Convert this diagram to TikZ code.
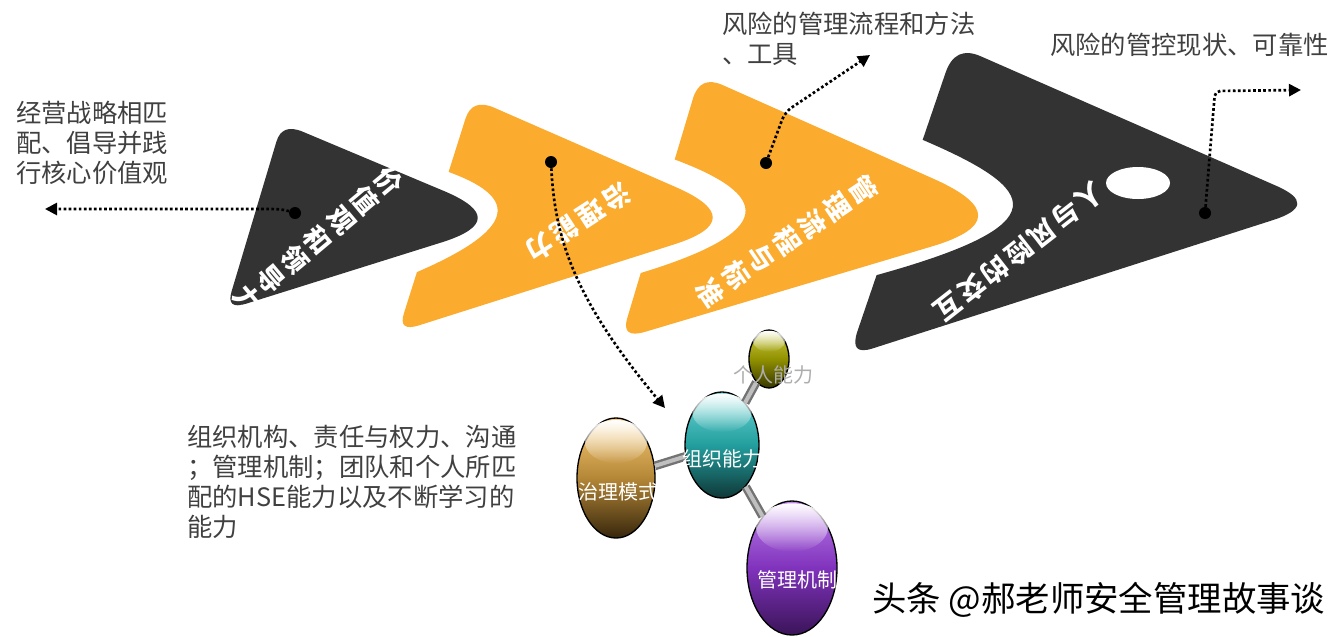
\documentclass[tikz,border=0pt]{standalone}
\usepackage{fontspec}
\setmainfont{Noto Sans CJK SC}
\usetikzlibrary{calc,shapes.geometric,arrows.meta,fadings}
\definecolor{chevdark}{RGB}{51,51,51}
\definecolor{chevorange}{RGB}{251,171,46}
\definecolor{notegray}{RGB}{64,64,64}
\newcommand{\rndcorner}[5]{-- ($(#2)!#4!(#1)$) .. controls ($(#2)!#4/3!(#1)$) and ($(#2)!#5/3!(#3)$) .. ($(#2)!#5!(#3)$)}
\tikzset{dark chev/.style={fill=chevdark},
         orange chev/.style={fill=chevorange},
         chev label/.style={text=white,font=\bfseries\fontsize{20}{23}\selectfont,inner sep=0pt,align=center},
         note/.style={text=notegray,font=\fontsize{19}{22.5}\selectfont,align=left,inner sep=0pt,anchor=west},
         dot/.style={circle,fill=black,minimum size=9pt,inner sep=0pt},
         pointer/.style={->,line width=2pt,dash pattern=on 2pt off 1.8pt},
         ball/.style 2 args={ellipse,draw=black,line width=1pt,inner sep=0pt,minimum width=1.5pt*#1,minimum height=1.5pt*#2},
         ball label/.style={text=white,font=\fontsize{15}{15}\selectfont,inner sep=0pt},
         bar/.style={draw=black!55,double=black!25,line width=1.8pt,double distance=3pt}
}

\begin{document}
\begin{tikzpicture}[x=0.75pt,y=-0.75pt,>={Triangle[length=9pt,width=9pt]}]
\useasboundingbox (0,0) rectangle (1342,636);

% chevrons, left to right
\coordinate (t1) at (282,123);
\coordinate (p1) at (513,220);
\coordinate (b1) at (226,310);
\fill[dark chev] ($(t1)!0.5!(b1)$) \rndcorner{b1}{t1}{p1}{0.1}{0.09} \rndcorner{t1}{p1}{b1}{0.3}{0.25}
    \rndcorner{p1}{b1}{t1}{0.07}{0.1} -- cycle;

\coordinate (t2) at (472,98);
\coordinate (p2) at (751,220);
\coordinate (b2) at (398,332);
\fill[orange chev] ($(t2)!0.744!(b2)$) .. controls (526,225) and (512,195) .. ($(t2)!0.316!(b2)$)
    \rndcorner{b2}{t2}{p2}{0.09}{0.08} \rndcorner{t2}{p2}{b2}{0.27}{0.22}
    \rndcorner{p2}{b2}{t2}{0.06}{0.08} -- cycle;

\coordinate (t3) at (700,75);
\coordinate (p3) at (1024,219);
\coordinate (b3) at (621,339);
\fill[orange chev] ($(t3)!0.75!(b3)$) .. controls (779,231) and (770,195) .. ($(t3)!0.32!(b3)$)
    \rndcorner{b3}{t3}{p3}{0.09}{0.07} \rndcorner{t3}{p3}{b3}{0.28}{0.23}
    \rndcorner{p3}{b3}{t3}{0.06}{0.08} -- cycle;

\coordinate (t4) at (955,45);
\coordinate (p4) at (1320,205);
\coordinate (b4) at (849,356);
\fill[dark chev] ($(t4)!0.74!(b4)$) .. controls (1061,224) and (1040,190) .. ($(t4)!0.305!(b4)$)
    \rndcorner{b4}{t4}{p4}{0.09}{0.07} \rndcorner{t4}{p4}{b4}{0.12}{0.1}
    \rndcorner{p4}{b4}{t4}{0.05}{0.08} -- cycle;
\fill[white] (1138,183) ellipse [x radius=32,y radius=16];

% chevron labels
\node[chev label,rotate=-50] (vallbl) at (318,240) {价\\值\\观\\和\\领\\导\\力};
\node[chev label,rotate=213] (govlbl) at (578,222) {治\hspace{2.9pt}理\hspace{2.9pt}能\hspace{2.9pt}力};
\node[chev label,rotate=-56] (proclbl) at (787,241) {管\\理\\流\\程\\与\\标\\准};
\node[chev label,rotate=218] (risklbl) at (1019,252)
  {人\hspace{2.4pt}与\hspace{2.4pt}风\hspace{2.4pt}险\hspace{2.4pt}的\hspace{2.4pt}交\hspace{2.4pt}互};

% notes
\node[note] (valnote) at (16,143) {经营战略相匹\\配、倡导并践\\行核心价值观};
\node[note] (procnote) at (722,39) {风险的管理流程和方法\\、工具};
\node[note] (risknote) at (1050,45) {风险的管控现状、可靠性};
\node[note] (govnote) at (187,482) {组织机构、责任与权力、沟通\\；管理机制；团队和个人所匹\\配的HSE能力以及不断学习的\\能力};
\node[anchor=west,inner sep=0pt,font=\fontsize{25.8}{25.8}\selectfont] (mark) at (872,600) {头条 @郝老师安全管理故事谈};

% pointers
\node[dot] (d1) at (295,213) {};
\node[dot] (d2) at (551,162) {};
\node[dot] (d3) at (766,163) {};
\node[dot] (d4) at (1205,213) {};
\coordinate (e1) at (45,209);
\coordinate (e2) at (665,408);
\coordinate (e3) at (870,55);
\coordinate (e4) at (1301,90);
\draw[pointer] (d1) .. controls (282,209) and (275,209) .. (262,209) -- (e1);
\draw[pointer] (d2) .. controls (555,240) and (575,300) .. (e2);
\draw[pointer,rounded corners=6pt] (d3) -- (785,112) -- (e3);
\draw[pointer,rounded corners=4pt] (d4) -- (1215,91) -- (e4);

% balls
\node[ball={20}{29},top color={rgb,255:red,205;green,205;blue,70},bottom color={rgb,255:red,55;green,55;blue,0},middle color={rgb,255:red,145;green,145;blue,0}] (ind) at (769,359) {};
\node[ball={37}{53},top color={rgb,255:red,110;green,215;blue,215},bottom color={rgb,255:red,15;green,55;blue,55},middle color={rgb,255:red,35;green,158;blue,158}] (org) at (722,445) {};
\node[ball={39}{60},top color={rgb,255:red,250;green,205;blue,120},bottom color={rgb,255:red,55;green,38;blue,12},middle color={rgb,255:red,180;green,135;blue,55}] (gov) at (616,478) {};
\node[ball={45}{67},top color={rgb,255:red,190;green,130;blue,235},bottom color={rgb,255:red,58;green,20;blue,88},middle color={rgb,255:red,128;green,50;blue,188}] (mech) at (792,568) {};
\foreach \b/\rx/\ry in {ind/20/29,org/37/53,gov/39/60,mech/45/67}
  \fill[white,path fading=south] ($(\b.center)!0.6!(\b.north)$) ellipse [x radius=0.8*\rx,y radius=0.36*\ry];
\draw[bar] (org) -- (ind);
\draw[bar] (org) -- (gov);
\draw[bar] (org) -- (mech);
\node[ball label,text=white!68!black] (indtxt) at (773,375) {个人能力};
\node[ball label] (orgtxt) at (722,459) {组织能力};
\node[ball label] (govtxt) at (618,492) {治理模式};
\node[ball label] (mechtxt) at (797,580) {管理机制};
\end{tikzpicture}
\end{document}
